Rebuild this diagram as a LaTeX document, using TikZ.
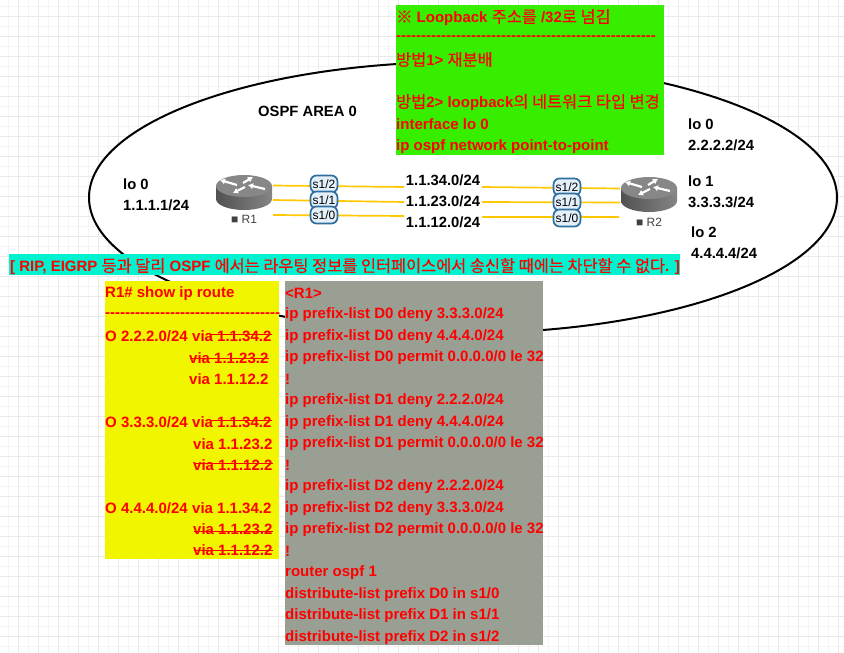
\documentclass[tikz,border=0pt]{standalone}
\usepackage{fontspec}
\setmainfont{Liberation Sans}
\newfontfamily\krfont[Scale=1.09,FakeBold=0.4]{Noto Sans CJK KR}
\newcommand{\kr}[1]{{\krfont\mdseries #1}}
\newcommand{\dashrow}[1]{\foreach \i in {1,...,#1}{-}}
\usetikzlibrary{calc,arrows.meta}
\definecolor{gridminor}{HTML}{F4F4F4}
\definecolor{gridmajor}{HTML}{EAEAEA}
\definecolor{panelgreen}{HTML}{38EE00}
\definecolor{panelcyan}{HTML}{00F2CF}
\definecolor{panelyellow}{HTML}{F2F500}
\definecolor{panelgrey}{HTML}{9A9F94}
\definecolor{linkgold}{HTML}{FFC800}
\definecolor{portfill}{HTML}{E3F0FA}
\definecolor{portline}{HTML}{2F6F9F}
\tikzset{
	black text/.style={anchor=west,inner sep=0pt,yshift=-0.5pt,text=black,font=\fontsize{14.8}{17}\selectfont\bfseries},
	red text/.style={black text,yshift=-1pt,text=red,font=\fontsize{15}{17}\selectfont\bfseries},
	port/.style={draw=portline,line width=1.7pt,fill=portfill,rounded corners=6pt,minimum width=27pt,minimum height=17pt,inner sep=0pt,font=\fontsize{12}{13}\selectfont},
	net/.style={fill=white,inner sep=1pt,font=\fontsize{14.8}{17}\selectfont\bfseries},
	link/.style={draw=linkgold,line width=1.7pt},
	strike/.style={draw=red,line width=1.2pt},
	turn/.style={white,line width=2.2pt,-{Latex[length=5pt,width=6.5pt]}},
	router/.pic={
		\shade[left color=black!68,right color=black!48] (-28,0) -- (-28,13) arc[start angle=180,end angle=360,x radius=28,y radius=-11] -- (28,0) -- cycle;
		\fill[black!47] (0,0) ellipse (28 and 11);
		\draw[turn] (-7,-1) -- (-24,-6);
		\draw[turn] (-1,-3) -- (9,-9);
		\draw[turn] (1,1) -- (-11,7);
		\draw[turn] (21,3) -- (4,-1);
	}
}
\begin{document}
\begin{tikzpicture}[x=1pt,y=-1pt]
\useasboundingbox (0,0) rectangle (844,653);
\fill[white] (0,0) rectangle (844,653);
\begin{scope}[shift={(8,6)}]
\draw[gridminor,line width=0.7pt,step=10pt] (-8,-6) grid (836,647);
\draw[gridmajor,line width=0.7pt,xshift=10pt,yshift=-10pt,step=20pt] (-18,-16) grid (826,637);
\end{scope}
\draw[fill=white,line width=2pt] (463,197.5) ellipse (374 and 135.6);
%
\node[black text] (area) at (258,111) {OSPF AREA 0};
\node[black text] (lo0a) at (123,184) {lo 0};
\node[black text] (ip1) at (123,204.5) {1.1.1.1/24};
\node[black text] (lo0b) at (688,124) {lo 0};
\node[black text] (ip2) at (688,144.5) {2.2.2.2/24};
\node[black text] (lo1) at (688,181) {lo 1};
\node[black text] (ip3) at (688,201.5) {3.3.3.3/24};
\node[black text] (lo2) at (691,232) {lo 2};
\node[black text] (ip4) at (691,252.5) {4.4.4.4/24};
%
\pic at (244,186) {router};
\pic at (649,188) {router};
\node[inner sep=0pt,text=black!75,font=\fontsize{12}{13}\selectfont] (r1) at (244,219) {■ R1};
\node[inner sep=0pt,text=black!75,font=\fontsize{12}{13}\selectfont] (r2) at (649,222) {■ R2};
\coordinate (a1) at (273,185.5);
\coordinate (a2) at (273,200);
\coordinate (a3) at (273,215);
\coordinate (b1) at (620,188.5);
\coordinate (b2) at (620,202.5);
\coordinate (b3) at (619,217);
\node[net] (n34) at (443,180) {1.1.34.0/24};
\node[net] (n23) at (443,201) {1.1.23.0/24};
\node[net] (n12) at (443,222) {1.1.12.0/24};
\draw[link] (a1) to (404,187) (482,187) to (b1);
\draw[link] (a2) to (404,202) (482,202) to (b2);
\draw[link] (a3) to (404,216) (482,217) to (b3);
\node[port] (a12) at (324,184) {s1/2};
\node[port] (a11) at (324,200) {s1/1};
\node[port] (a10) at (324,215) {s1/0};
\node[port] (b12) at (567,187) {s1/2};
\node[port] (b11) at (567,202) {s1/1};
\node[port] (b10) at (567,218) {s1/0};
%
\fill[panelgreen] (396,5) rectangle (664,155);
\node[red text] (g1) at (396,16) {\kr{※} Loopback \kr{주소를} /32\kr{로 넘김}};
\node[red text] (g2) at (396,37) {\dashrow{52}};
\node[red text] (g3) at (396,58) {\kr{방법}1> \kr{재분배}};
\node[red text] (g4) at (396,101) {\kr{방법}2> loopback\kr{의 네트워크 타입 변경}};
\node[red text] (g5) at (396,123) {interface lo 0};
\node[red text] (g6) at (396,145) {ip ospf network point-to-point};
%
\fill[panelcyan] (9,254) rectangle (680,275);
\node[red text] (banner) at (10,265) {[ RIP, EIGRP \kr{등과 달리} OSPF \kr{에서는 라우팅 정보를 인터페이스에서 송신할 때에는 차단할 수 없다}. ]};
%
\fill[panelyellow] (105,281) rectangle (279,559);
\node[red text] (y1) at (105,292) {R1\# show ip route};
\node[red text] (y2) at (105,313.5) {\dashrow{35}};
\node[red text] (p2) at (105,335) {O 2.2.2.0/24};
\node[red text] (v1) at (192,335) {via 1.1.34.2};
\node[red text] (v2) at (189,357) {via 1.1.23.2};
\node[red text] (v3) at (189,378) {via 1.1.12.2};
\node[red text] (p3) at (105,421) {O 3.3.3.0/24};
\node[red text] (v4) at (192,421) {via 1.1.34.2};
\node[red text] (v5) at (193,443) {via 1.1.23.2};
\node[red text] (v6) at (193,464) {via 1.1.12.2};
\node[red text] (p4) at (105,507) {O 4.4.4.0/24};
\node[red text] (v7) at (192,507) {via 1.1.34.2};
\node[red text] (v8) at (193,528) {via 1.1.23.2};
\node[red text] (v9) at (193,549) {via 1.1.12.2};
\draw[strike] ($(v1.west)+(18,-2)$) to ($(v1.east)+(0,-2)$);
\draw[strike] ($(v2.west)+(1,0)$) to ($(v2.east)+(0,0)$);
\draw[strike] ($(v4.west)+(18,-2)$) to ($(v4.east)+(0,-2)$);
\draw[strike] ($(v6.west)+(1,-2)$) to ($(v6.east)+(0,-2)$);
\draw[strike] ($(v8.west)+(1,2)$) to ($(v8.east)+(0,2)$);
\draw[strike] ($(v9.west)+(1,0)$) to ($(v9.east)+(0,0)$);
%
\fill[panelgrey] (285,281) rectangle (543,645);
\node[red text] (c1) at (285,292) {<R1>};
\node[red text] (c2) at (285,313.5) {ip prefix-list D0 deny 3.3.3.0/24};
\node[red text] (c3) at (285,335) {ip prefix-list D0 deny 4.4.4.0/24};
\node[red text] (c4) at (285,356.5) {ip prefix-list D0 permit 0.0.0.0/0 le 32};
\node[red text] (c5) at (285,378) {!};
\node[red text] (c6) at (285,399.5) {ip prefix-list D1 deny 2.2.2.0/24};
\node[red text] (c7) at (285,421) {ip prefix-list D1 deny 4.4.4.0/24};
\node[red text] (c8) at (285,442.5) {ip prefix-list D1 permit 0.0.0.0/0 le 32};
\node[red text] (c9) at (285,464) {!};
\node[red text] (c10) at (285,485.5) {ip prefix-list D2 deny 2.2.2.0/24};
\node[red text] (c11) at (285,507) {ip prefix-list D2 deny 3.3.3.0/24};
\node[red text] (c12) at (285,528.5) {ip prefix-list D2 permit 0.0.0.0/0 le 32};
\node[red text] (c13) at (285,550) {!};
\node[red text] (c14) at (285,571.5) {router ospf 1};
\node[red text] (c15) at (285,593) {distribute-list prefix D0 in s1/0};
\node[red text] (c16) at (285,614.5) {distribute-list prefix D1 in s1/1};
\node[red text] (c17) at (285,636) {distribute-list prefix D2 in s1/2};
\end{tikzpicture}
\end{document}
